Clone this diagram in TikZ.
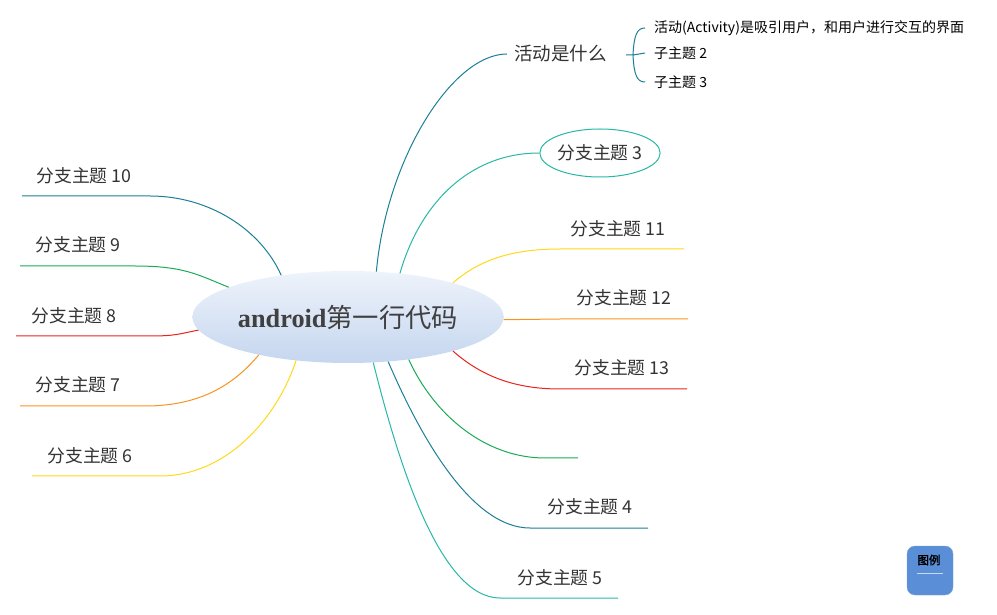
\documentclass[tikz,border=0pt]{standalone}
\usepackage{fontspec}
\setmainfont{Noto Sans CJK SC}
\newfontfamily\cjk{Noto Sans CJK SC}
\newfontfamily\cjkbold[FakeBold=2]{Noto Sans CJK SC}
\newfontfamily\slab{Liberation Serif}
\usetikzlibrary{shapes.geometric}
\definecolor{tealdark}{HTML}{1A7F97}
\definecolor{teallight}{HTML}{27B8A6}
\definecolor{myyellow}{HTML}{FFD91A}
\definecolor{myorange}{HTML}{F7941D}
\definecolor{myred}{HTML}{E8231B}
\definecolor{mygreen}{HTML}{1AAA55}
\definecolor{labelgray}{HTML}{333333}
\definecolor{rootgray}{HTML}{404040}
\definecolor{legendblue}{HTML}{5A8ED6}
\tikzset{
  branch/.style={line width=1pt},
  lbl/.style={font=\cjk\fontsize{17.8}{20}\selectfont, text=labelgray, inner sep=0pt},
  sublbl/.style={font=\cjk\fontsize{14}{16}\selectfont, text=black, inner xsep=9pt, inner ysep=0pt, anchor=west},
}
\begin{document}
\begin{tikzpicture}[x=1pt,y=1pt]
\useasboundingbox (0,0) rectangle (997,614);
% root
\node[ellipse, minimum width=310, minimum height=92, inner sep=0pt,
      top color={rgb,255:red,238;green,243;blue,251}, bottom color={rgb,255:red,197;green,214;blue,239},
      text=rootgray] (root) at (348,297)
      {\fontsize{26.3}{30}\selectfont{\slab\bfseries android}\cjk 第一行代码};
% labels
\node[lbl, anchor=west, inner xsep=7pt, font=\cjk\fontsize{18.5}{20}\selectfont] (t1) at (507,560) {活动是什么};
\node[ellipse, draw=teallight, line width=1pt, fill=white, minimum width=118, minimum height=48, inner sep=0pt,
      font=\cjk\fontsize{17.8}{20}\selectfont, text=labelgray] (b3) at (600,461) {分支主题 3};
\node[lbl] (b11) at (618,385) {分支主题 11};
\node[lbl] (b12) at (624,316) {分支主题 12};
\node[lbl] (b13) at (622,246) {分支主题 13};
\node[lbl] (b4) at (590,107) {分支主题 4};
\node[lbl] (b5) at (560,36) {分支主题 5};
\node[lbl] (b10) at (84,438) {分支主题 10};
\node[lbl] (b9) at (78,369) {分支主题 9};
\node[lbl] (b8) at (74,298) {分支主题 8};
\node[lbl] (b7) at (78,229) {分支主题 7};
\node[lbl] (b6) at (90,158) {分支主题 6};
% sub topics
\node[sublbl] (s1) at (645,586) {活动(Activity)是吸引用户，和用户进行交互的界面};
\node[sublbl] (s2) at (645,561) {子主题 2};
\node[sublbl] (s3) at (645,532) {子主题 3};
% coordinates
\coordinate (c11s) at (560,365); \coordinate (c11e) at (684,365);
\coordinate (c12s) at (560,295); \coordinate (c12e) at (688,295);
\coordinate (c13s) at (560,225); \coordinate (c13e) at (687,225);
\coordinate (c6s) at (545,156); \coordinate (c6e) at (578,156);
\coordinate (c4s) at (530,86); \coordinate (c4e) at (648,86);
\coordinate (c5s) at (500,16); \coordinate (c5e) at (618,16);
\coordinate (l10s) at (150,418); \coordinate (l10e) at (22,418);
\coordinate (l9s) at (135,348); \coordinate (l9e) at (20,348);
\coordinate (l8s) at (150,278); \coordinate (l8e) at (16,278);
\coordinate (l7s) at (145,208); \coordinate (l7e) at (20,208);
\coordinate (l6s) at (160,138); \coordinate (l6e) at (32,138);
\coordinate (bs) at (626,559); \coordinate (bj) at (633,559);
% right connectors
\draw[branch, tealdark] (root.58) .. controls +(10,112) and +(-55,0) .. (t1.west);
\draw[branch, teallight] (root.40) .. controls +(20,70) and +(-70,0) .. (b3.west);
\draw[branch, myyellow] (root.18) .. controls +(25,22) and +(-50,0) .. (c11s) -- (c11e);
\draw[branch, myorange] (root.-1) -- (c12s) -- (c12e);
\draw[branch, myred] (root.-18) .. controls +(25,-22) and +(-50,0) .. (c13s) -- (c13e);
\draw[branch, mygreen] (root.-35) .. controls +(25,-55) and +(-60,0) .. (c6s) -- (c6e);
\draw[branch, tealdark] (root.-48) .. controls +(30,-70) and +(-60,0) .. (c4s) -- (c4e);
\draw[branch, teallight] (root.-61) .. controls +(25,-100) and +(-60,0) .. (c5s) -- (c5e);
% left connectors
\draw[branch, tealdark] (root.148) .. controls +(-20,45) and +(60,0) .. (l10s) -- (l10e);
\draw[branch, mygreen] (root.166) .. controls +(-30,12) and +(50,0) .. (l9s) -- (l9e);
\draw[branch, myred] (root.185) .. controls +(-20,-4) and +(25,0) .. (l8s) -- (l8e);
\draw[branch, myorange] (root.203) .. controls +(-25,-30) and +(55,0) .. (l7s) -- (l7e);
\draw[branch, myyellow] (root.220) .. controls +(-20,-60) and +(65,0) .. (l6s) -- (l6e);
% brace
\draw[branch, tealdark] (bs) -- (bj) .. controls +(1,20) and +(-8,0) .. (s1.west);
\draw[branch, tealdark] (bj) -- (s2.west);
\draw[branch, tealdark] (bj) .. controls +(1,-20) and +(-8,0) .. (s3.west);
% legend
\node[draw=legendblue!80!white, fill=legendblue, rounded corners=8pt, minimum width=46, minimum height=49, inner sep=0pt] (lg) at (930,43.5) {};
\node[font=\cjkbold\fontsize{11.5}{13}\selectfont, text=black, inner sep=0pt] (lgt) at (929,54) {图例};
\coordinate (lga) at (917,41); \coordinate (lgb) at (943,41);
\draw[line width=1pt, color={rgb,255:red,200;green,216;blue,240}] (lga) -- (lgb);
\end{tikzpicture}
\end{document}
